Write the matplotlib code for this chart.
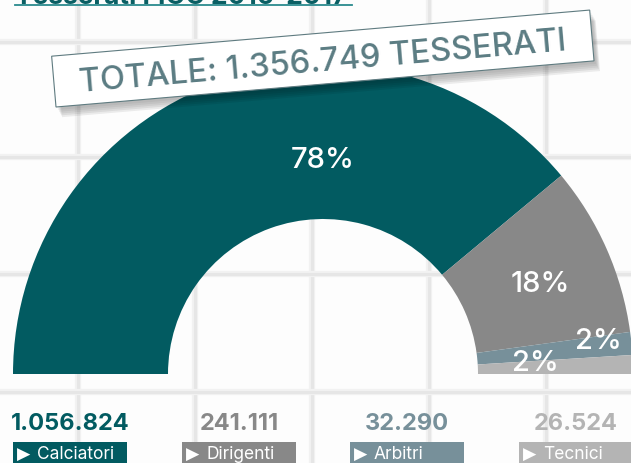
import numpy as np
import matplotlib
matplotlib.use("Agg")
import matplotlib.pyplot as plt
from matplotlib.patches import Rectangle

# data
categories = ["Calciatori", "Dirigenti", "Arbitri", "Tecnici"]
values = [1056824, 241111, 32290, 26524]
value_labels = ["1.056.824", "241.111", "32.290", "26.524"]
colors = ["#025b61", "#888888", "#77909a", "#b4b4b4"]
title = "Tesserati FIGC 2016-2017"
total_label = "TOTALE: 1.356.749 TESSERATI"

W, H = 631, 464
FONT = ["Inter", "DejaVu Sans"]

fig = plt.figure(figsize=(W / 100, H / 100), dpi=100)
fig.patch.set_facecolor("#fdfdfd")
ax = fig.add_axes([0, 0, 1, 1])


def py(y):
    # pixel row (from top) -> data y
    return H - y


# background grid
for gx in [78, 195, 312, 429, 546]:
    ax.axvline(gx, color="#f2f2f2", lw=4.5, zorder=0)
    ax.axvline(gx, color="#e6e6e6", lw=2.2, zorder=0)
for gy in [43, 158, 275, 393]:
    ax.axhline(py(gy), color="#f2f2f2", lw=4.5, zorder=0)
    ax.axhline(py(gy), color="#e6e6e6", lw=2.2, zorder=0)

# half donut: hidden wedge fills the lower half
total = sum(values)
cx, cy, R = 323, py(375), 310
wedges, _ = ax.pie(values + [total], colors=colors + ["none"], startangle=180,
                   counterclock=False, radius=R, center=(cx, cy),
                   wedgeprops=dict(width=R / 2, linewidth=0))
for w in wedges:
    w.set_zorder(1)

# percentage labels
pcts = ["%d%%" % round(100 * v / total) for v in values]
pct_pos = [(323, 160), (540, 284), (598, 342), (535, 364)]
for p, (x, y) in zip(pcts, pct_pos):
    ax.text(x, py(y), p, color="white", fontsize=21, fontweight="medium",
            family=FONT, ha="center", va="center", zorder=2)

# title (cut off by top edge)
ax.text(15, py(3.5), title, color="#0b5f64", fontsize=19, fontweight="bold",
        family=FONT, ha="left", va="baseline", zorder=3)
ax.plot([15, 352], [py(6), py(6)], color="#2a8a8e", lw=1.3, zorder=3)

# total box with shadow
ang = 4.9
bx, by, bw, bh = 56, py(108), 540, 51
for k, a in enumerate([0.04, 0.05, 0.06, 0.07, 0.07]):
    ax.add_patch(Rectangle((bx + 2 + k, by - 3 - 1.8 * k), bw, bh, angle=ang,
                           facecolor="black", alpha=a, lw=0, zorder=4))
ax.add_patch(Rectangle((bx, by), bw, bh, angle=ang, facecolor="white",
                       edgecolor="#5f7b80", lw=0.8, zorder=5))
t = np.radians(ang)
tx = bx + bw / 2 * np.cos(t) - bh / 2 * np.sin(t)
ty = by + bw / 2 * np.sin(t) + bh / 2 * np.cos(t) - 3
ax.text(tx, ty, total_label, color="#5b7c83", fontsize=23.5, fontweight="medium",
        family=FONT, rotation=ang, rotation_mode="anchor",
        ha="center", va="center", zorder=6)

# bottom values and labelled boxes
box_left = [13, 182, 350, 519]
box_w = 114
for cat, lab, col, x0 in zip(categories, value_labels, colors, box_left):
    ax.text(x0 + box_w / 2, py(424), lab, color=col, fontsize=17,
            fontweight="bold", family=FONT, ha="center", va="center", zorder=3)
    ax.add_patch(Rectangle((x0, py(472)), box_w, 29, facecolor=col, lw=0, zorder=3))
    ax.text(x0 + 4, py(455), "\u25b6", color="white", fontsize=12.5,
            family=["DejaVu Sans"], ha="left", va="center", zorder=4)
    ax.text(x0 + 24, py(455), cat, color="white", fontsize=12.5,
            family=FONT, ha="left", va="center", zorder=4)

ax.set_xlim(0, W)
ax.set_ylim(0, H)
ax.set_aspect("auto")
ax.axis("off")

fig.savefig("out.png", dpi=100, facecolor=fig.get_facecolor())
